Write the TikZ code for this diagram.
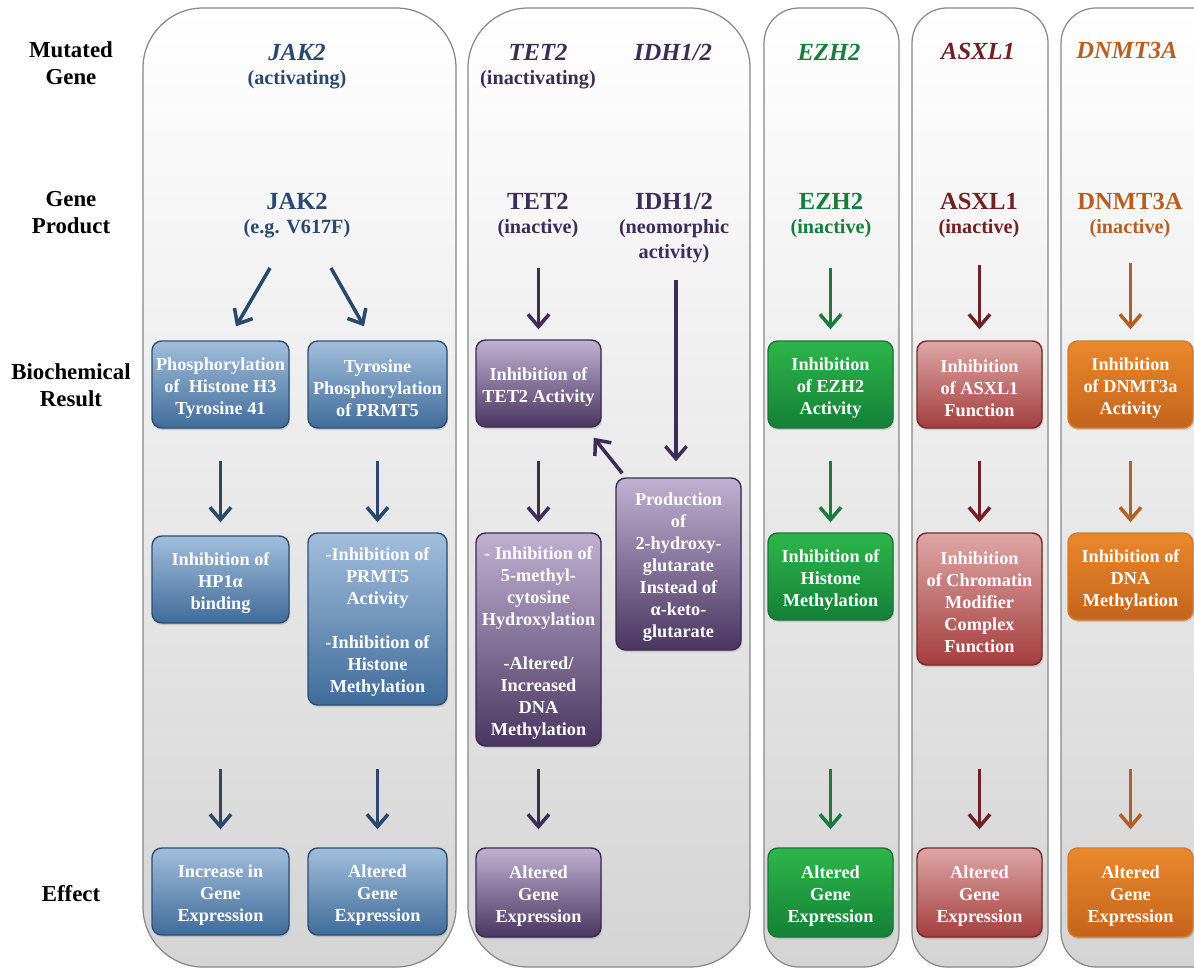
\documentclass[tikz,border=0pt]{standalone}
\usepackage{fontspec}
\setmainfont{Liberation Serif}
\usetikzlibrary{arrows.meta,shadows}
\definecolor{cBlue}{RGB}{40,72,110}
\definecolor{cBlueT}{RGB}{162,190,220}
\definecolor{cBlueB}{RGB}{64,108,154}
\definecolor{cBlueD}{RGB}{44,78,116}
\definecolor{cPur}{RGB}{60,44,88}
\definecolor{cPurT}{RGB}{192,177,210}
\definecolor{cPurB}{RGB}{74,54,96}
\definecolor{cPurD}{RGB}{58,42,82}
\definecolor{cGrn}{RGB}{26,124,60}
\definecolor{cGrnT}{RGB}{46,182,74}
\definecolor{cGrnB}{RGB}{20,128,56}
\definecolor{cGrnD}{RGB}{24,118,52}
\definecolor{cRed}{RGB}{110,34,34}
\definecolor{cRedT}{RGB}{222,166,166}
\definecolor{cRedB}{RGB}{164,62,62}
\definecolor{cRedD}{RGB}{122,40,40}
\definecolor{cOrg}{RGB}{180,96,36}
\definecolor{cOrgT}{RGB}{234,136,44}
\definecolor{cOrgB}{RGB}{196,100,28}
\definecolor{cOrgD}{RGB}{214,122,42}
\definecolor{panelB}{RGB}{212,212,212}
\definecolor{panelL}{RGB}{135,135,135}
\tikzset{
  panel/.style={draw=panelL, line width=0.7pt, top color=white, bottom color=panelB},
  rowlab/.style={font=\bfseries\fontsize{13}{15.3}\selectfont, align=center, inner sep=0pt},
  gname/.style={font=\bfseries\fontsize{14}{16}\selectfont, inner sep=0pt},
  gsub/.style={font=\bfseries\fontsize{11.5}{14}\selectfont, inner sep=0pt},
  box/.style={rounded corners=5.5pt, line width=0.8pt, align=center, text=white,
    font=\bfseries\fontsize{10.4}{12.5}\selectfont, inner sep=1pt,
    drop shadow={shadow xshift=0.6pt, shadow yshift=-1.2pt, opacity=0.3}},
  sz/.style 2 args={minimum width=#1*0.02cm, minimum height=#2*0.02cm},
  bluebox/.style={box, draw=cBlueD, top color=cBlueT, bottom color=cBlueB},
  purbox/.style={box, draw=cPurD, top color=cPurT, bottom color=cPurB},
  grnbox/.style={box, draw=cGrnD, top color=cGrnT, bottom color=cGrnB},
  redbox/.style={box, draw=cRedD, top color=cRedT, bottom color=cRedB},
  orgbox/.style={box, draw=cOrgD, top color=cOrgT, bottom color=cOrgB},
  arr/.style={line width=2pt, -{Straight Barb[length=7pt,width=12pt]}},
}
\newcommand{\dn}{\rule{0pt}{11pt}}
\begin{document}
\begin{tikzpicture}[x=0.02cm,y=-0.02cm]
\useasboundingbox (0,0) rectangle (1194,970);
\clip (0,0) rectangle (1194,970);
\fill[white] (0,0) rectangle (1194,970);

% panels
\path[panel, rounded corners=1.2cm] (143,8) rectangle (456,967);
\path[panel, rounded corners=1.2cm] (468,8) rectangle (750,967);
\path[panel, rounded corners=0.7cm] (764,8) rectangle (899,967);
\path[panel, rounded corners=0.7cm] (912,8) rectangle (1048,967);
\path[panel, rounded corners=0.7cm] (1061,8) rectangle (1230,967);

% row labels
\node[rowlab] (r1) at (71,63) {Mutated\\Gene};
\node[rowlab] (r2) at (71,213) {Gene\\Product};
\node[rowlab] (r3) at (71,385) {Biochemical\\Result};
\node[rowlab] (r4) at (71,894) {Effect};

% mutated gene headers
\node[gname,text=cBlue,font=\bfseries\itshape\fontsize{14}{16}\selectfont] (m1) at (297,52) {JAK2};
\node[gsub,text=cBlue] (m1s) at (297,80) {(activating)};
\node[gname,text=cPur,font=\bfseries\itshape\fontsize{14}{16}\selectfont] (m2) at (538,52) {TET2};
\node[gsub,text=cPur] (m2s) at (538,80) {(inactivating)};
\node[gname,text=cPur,font=\bfseries\itshape\fontsize{14}{16}\selectfont] (m3) at (673,52) {IDH1/2};
\node[gname,text=cGrn,font=\bfseries\itshape\fontsize{14}{16}\selectfont] (m4) at (829,52) {EZH2};
\node[gname,text=cRed,font=\bfseries\itshape\fontsize{14}{16}\selectfont] (m5) at (978,51) {ASXL1};
\node[gname,text=cOrg,font=\bfseries\itshape\fontsize{14}{16}\selectfont] (m6) at (1127,50) {DNMT3A};

% gene products
\node[gname,text=cBlue] (g1) at (297,201) {JAK2};
\node[gsub,text=cBlue] (g1s) at (297,229) {(e.g. V617F)};
\node[gname,text=cPur] (g2) at (538,201) {TET2};
\node[gsub,text=cPur] (g2s) at (538,229) {(inactive)};
\node[gname,text=cPur] (g3) at (674,201) {IDH1/2};
\node[gsub,text=cPur] (g3s) at (674,229) {(neomorphic};
\node[gsub,text=cPur] (g3t) at (674,254) {activity)};
\node[gname,text=cGrn] (g4) at (831,201) {EZH2};
\node[gsub,text=cGrn] (g4s) at (831,229) {(inactive)};
\node[gname,text=cRed] (g5) at (979,201) {ASXL1};
\node[gsub,text=cRed] (g5s) at (979,229) {(inactive)};
\node[gname,text=cOrg] (g6) at (1130,201) {DNMT3A};
\node[gsub,text=cOrg] (g6s) at (1130,229) {(inactive)};

% panel 1 boxes
\node[bluebox,sz={137}{87}] (b1) at (220.5,384.5) {\dn Phosphorylation\\of~ Histone H3\\Tyrosine 41};
\node[bluebox,sz={139}{87}] (b2) at (377.5,384.5) {\dn Tyrosine\\Phosphorylation\\of PRMT5};
\node[bluebox,sz={137}{87}] (b3) at (220.5,579.5) {\dn Inhibition of\\HP1α\\binding};
\node[bluebox,sz={139}{172}] (b4) at (377.5,619) {\dn -Inhibition of\\PRMT5\\Activity\\[12.5pt]-Inhibition of\\Histone\\Methylation};
\node[bluebox,sz={137}{87}] (b5) at (220.5,891.5) {\dn Increase in\\Gene\\Expression};
\node[bluebox,sz={139}{87}] (b6) at (377.5,891.5) {\dn Altered\\Gene\\Expression};

% panel 2 boxes
\node[purbox,sz={125}{87}] (t1) at (538.5,383.5) {\dn Inhibition of\\TET2 Activity};
\node[purbox,sz={125}{213}] (t2) at (538.5,639.5) {\dn - Inhibition of\\5-methyl-\\cytosine\\Hydroxylation\\[12.5pt]-Altered/\\Increased\\DNA\\Methylation};
\node[purbox,sz={125}{172}] (i1) at (678.5,564) {\dn Production\\of\\2-hydroxy-\\glutarate\\Instead of\\α-keto-\\glutarate};
\node[purbox,sz={125}{89}] (t3) at (538.5,892.5) {\dn Altered\\Gene\\Expression};

% panel 3 boxes
\node[grnbox,sz={125}{87}] (e1) at (830.5,384.5) {\dn Inhibition\\of EZH2\\Activity};
\node[grnbox,sz={125}{87}] (e2) at (830.5,576.5) {\dn Inhibition of\\Histone\\Methylation};
\node[grnbox,sz={125}{89}] (e3) at (830.5,892.5) {\dn Altered\\Gene\\Expression};

% panel 4 boxes
\node[redbox,sz={125}{87}] (a1) at (979.5,384.5) {\dn Inhibition\\of ASXL1\\Function};
\node[redbox,sz={125}{132}] (a2) at (979.5,599) {\dn Inhibition\\of Chromatin\\Modifier\\Complex\\Function};
\node[redbox,sz={125}{89}] (a3) at (979.5,892.5) {\dn Altered\\Gene\\Expression};

% panel 5 boxes
\node[orgbox,sz={125}{87}] (d1) at (1130.5,384.5) {\dn Inhibition\\of DNMT3a\\Activity};
\node[orgbox,sz={125}{87}] (d2) at (1130.5,576.5) {\dn Inhibition of\\DNA\\Methylation};
\node[orgbox,sz={125}{89}] (d3) at (1130.5,892.5) {\dn Altered\\Gene\\Expression};

% arrow start coordinates
\coordinate (j1s) at (270,268);
\coordinate (j2s) at (331,268);
\coordinate (t0) at (538.5,268);
\coordinate (i0) at (676,280);
\coordinate (e0) at (830.5,268);
\coordinate (a0) at (979.5,265);
\coordinate (d0) at (1130.5,263);

% panel 1 arrows
\draw[arr,cBlue] (j1s) -- ([xshift=0.31cm,yshift=0.28cm]b1.north);
\draw[arr,cBlue] (j2s) -- ([xshift=-0.27cm,yshift=0.28cm]b2.north);
\draw[arr,cBlue] ([yshift=-0.64cm]b1.south) -- ([yshift=0.26cm]b3.north);
\draw[arr,cBlue] ([yshift=-0.64cm]b2.south) -- ([yshift=0.2cm]b4.north);
\draw[arr,cBlue] ([yshift=-2.9cm]b3.south) -- ([yshift=0.36cm]b5.north);
\draw[arr,cBlue] ([yshift=-1.26cm]b4.south) -- ([yshift=0.36cm]b6.north);

% panel 2 arrows
\draw[arr,cPur] (t0) -- ([yshift=0.2cm]t1.north);
\draw[arr,cPur] (i0) -- ([xshift=-0.05cm,yshift=0.32cm]i1.north);
\draw[arr,cPur] ([xshift=0.14cm,yshift=0.08cm]i1.north west) -- ([xshift=-0.16cm,yshift=-0.2cm]t1.south east);
\draw[arr,cPur] ([yshift=-0.66cm]t1.south) -- ([yshift=0.2cm]t2.north);
\draw[arr,cPur] ([yshift=-0.44cm]t2.south) -- ([yshift=0.36cm]t3.north);

% panel 3 arrows
\draw[arr,cGrn] (e0) -- ([yshift=0.22cm]e1.north);
\draw[arr,cGrn] ([yshift=-0.64cm]e1.south) -- ([yshift=0.2cm]e2.north);
\draw[arr,cGrn] ([yshift=-2.96cm]e2.south) -- ([yshift=0.36cm]e3.north);

% panel 4 arrows
\draw[arr,cRed] (a0) -- ([yshift=0.22cm]a1.north);
\draw[arr,cRed] ([yshift=-0.64cm]a1.south) -- ([yshift=0.2cm]a2.north);
\draw[arr,cRed] ([yshift=-2.06cm]a2.south) -- ([yshift=0.36cm]a3.north);

% panel 5 arrows
\draw[arr,cOrg] (d0) -- ([yshift=0.22cm]d1.north);
\draw[arr,cOrg] ([yshift=-0.64cm]d1.south) -- ([yshift=0.2cm]d2.north);
\draw[arr,cOrg] ([yshift=-2.96cm]d2.south) -- ([yshift=0.36cm]d3.north);
\end{tikzpicture}
\end{document}
